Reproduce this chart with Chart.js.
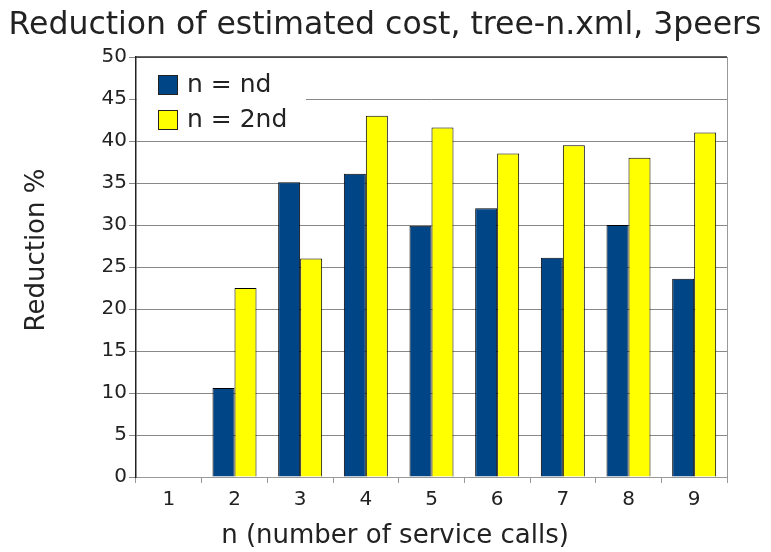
<!DOCTYPE html>
<html>
<head>
<meta charset="utf-8">
<script src="https://cdn.jsdelivr.net/npm/chart.js@4"></script>
<style>
  html, body { margin: 0; padding: 0; background: #fff; }
  #wrap { width: 771px; height: 552px; }
</style>
</head>
<body>
<div id="wrap"><canvas id="costChart"></canvas></div>
<script>
// Data
const categories = ['1', '2', '3', '4', '5', '6', '7', '8', '9'];
const seriesNd = [0, 10.6, 35.1, 36.1, 29.9, 32, 26.1, 30, 23.6];
const series2nd = [0, 22.5, 26, 43, 41.6, 38.5, 39.5, 38, 41];
const seriesLabels = ['n = nd', 'n = 2nd'];
const chartTitle = 'Reduction of estimated cost, tree-n.xml, 3peers';
const xTitle = 'n (number of service calls)';
const yTitle = 'Reduction %';

const FONT = 'DejaVu Sans';
const TEXT = '#222';

// Frame round the plot area: dark top, grey right
const framePlugin = {
  id: 'frame',
  afterDraw(chart) {
    const a = chart.chartArea;
    const c = chart.ctx;
    c.save();
    c.lineWidth = 1;
    c.strokeStyle = '#999';
    c.beginPath();
    c.moveTo(a.right + 0.5, a.top);
    c.lineTo(a.right + 0.5, a.bottom);
    c.stroke();
    c.strokeStyle = '#333';
    c.lineWidth = 1.5;
    c.beginPath();
    c.moveTo(a.left, a.top);
    c.lineTo(a.right, a.top);
    c.stroke();
    c.restore();
  }
};

// Chart and axis titles, placed where the original chart has them
const titles = {
  id: 'titles',
  afterDraw(chart) {
    const c = chart.ctx;
    c.save();
    c.fillStyle = TEXT;
    c.textAlign = 'center';
    c.textBaseline = 'middle';
    c.font = '31.5px "' + FONT + '"';
    c.fillText(chartTitle, 385, 26);
    c.font = '26px "' + FONT + '"';
    c.fillText(xTitle, 395, 536);
    c.translate(37, 250);
    c.rotate(-Math.PI / 2);
    c.fillText(yTitle, 0, 0);
    c.restore();
  }
};

// Legend inside the plot, on a white box above the grid
const innerLegend = {
  id: 'innerLegend',
  beforeDatasetsDraw(chart) {
    const a = chart.chartArea;
    const c = chart.ctx;
    c.save();
    c.fillStyle = '#fff';
    c.fillRect(a.left + 1, a.top + 1, 169, 83);
    c.font = '25px "' + FONT + '"';
    c.textBaseline = 'middle';
    chart.data.datasets.forEach((ds, i) => {
      const y = a.top + 18 + i * 35;
      c.fillStyle = ds.backgroundColor;
      c.fillRect(a.left + 22, y, 19, 19);
      c.strokeStyle = '#222';
      c.lineWidth = 1;
      c.strokeRect(a.left + 22.5, y + 0.5, 19, 19);
      c.fillStyle = TEXT;
      c.fillText(ds.label, a.left + 51, y + 10);
    });
    c.restore();
  }
};

const ctx = document.getElementById('costChart');
new Chart(ctx, {
  type: 'bar',
  data: {
    labels: categories,
    datasets: [
      {
        label: seriesLabels[0],
        data: seriesNd,
        backgroundColor: '#004586',
        borderColor: '#000',
        borderWidth: 1
      },
      {
        label: seriesLabels[1],
        data: series2nd,
        backgroundColor: '#ffff00',
        borderColor: '#000',
        borderWidth: 1
      }
    ]
  },
  options: {
    responsive: true,
    maintainAspectRatio: false,
    animation: false,
    layout: { padding: { left: 0, right: 44, top: 57, bottom: 0 } },
    datasets: {
      bar: { categoryPercentage: 0.67, barPercentage: 1.0 }
    },
    scales: {
      x: {
        grid: {
          offset: true,
          drawOnChartArea: false,
          drawTicks: true,
          tickLength: 6,
          color: '#999'
        },
        border: { color: '#999', width: 1 },
        ticks: {
          color: TEXT,
          font: { family: FONT, size: 20 },
          padding: 5
        },
        afterFit: s => { s.height = 75; }
      },
      y: {
        min: 0,
        max: 50,
        ticks: {
          stepSize: 5,
          color: TEXT,
          font: { family: FONT, size: 20 },
          padding: 2
        },
        grid: {
          color: '#888',
          tickLength: 7,
          lineWidth: 1
        },
        border: { color: '#222', width: 1.5 },
        afterFit: s => { s.width = 136; }
      }
    },
    plugins: {
      legend: { display: false },
      tooltip: { enabled: false },
      title: { display: false }
    }
  },
  plugins: [innerLegend, titles, framePlugin]
});
</script>
</body>
</html>
